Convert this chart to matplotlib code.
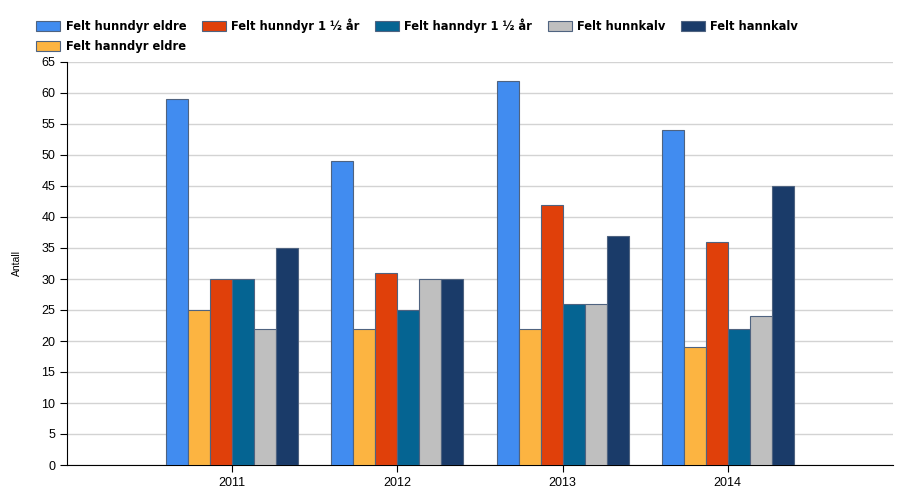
import numpy as np
import matplotlib.pyplot as plt

years = ["2011", "2012", "2013", "2014"]
series = [
    "Felt hunndyr eldre",
    "Felt hanndyr eldre",
    "Felt hunndyr 1 ½ år",
    "Felt hanndyr 1 ½ år",
    "Felt hunnkalv",
    "Felt hannkalv",
]
hunndyr_eldre = [59, 49, 62, 54]
hanndyr_eldre = [25, 22, 22, 19]
hunndyr_halvannet = [30, 31, 42, 36]
hanndyr_halvannet = [30, 25, 26, 22]
hunnkalv = [22, 30, 26, 24]
hannkalv = [35, 30, 37, 45]
values = [hunndyr_eldre, hanndyr_eldre, hunndyr_halvannet,
          hanndyr_halvannet, hunnkalv, hannkalv]
colors = ["#418CF0", "#FCB441", "#E0400A", "#056492", "#BFBFBF", "#1A3B69"]

fig = plt.figure(figsize=(9, 5), dpi=100)
ax = fig.add_axes([67 / 900, 35 / 500, 826 / 900, 403 / 500])

x = np.arange(1, len(years) + 1)
n = len(series)
width = 0.8 / n
for i, (name, vals, col) in enumerate(zip(series, values, colors)):
    offs = (i - (n - 1) / 2) * width
    ax.bar(x + offs, vals, width, color=col, edgecolor="#4f6380",
           linewidth=0.8, label=name, zorder=3)

ax.set_xlim(0, 5)
ax.set_ylim(0, 65)
ax.set_yticks(np.arange(0, 66, 5))
ax.set_xticks(x)
ax.set_xticklabels(years)
ax.yaxis.grid(True, color="#d3d3d3", linewidth=1, zorder=0)
ax.set_axisbelow(True)
for s in ["top", "right"]:
    ax.spines[s].set_visible(False)
ax.tick_params(axis="both", labelsize=9, length=5, color="black")
for lbl in ax.get_xticklabels() + ax.get_yticklabels():
    lbl.set_fontfamily("Liberation Sans")
ax.set_ylabel("Antall", fontsize=7.5, fontfamily="Liberation Sans", labelpad=14)

fig.legend(loc="upper left", bbox_to_anchor=(0.035, 0.972), ncol=5,
           frameon=False, prop={"weight": "bold", "size": 8.3},
           handlelength=2.1, handleheight=0.95, handletextpad=0.45,
           columnspacing=1.35, labelspacing=0.55, borderaxespad=0)

fig.savefig("out.png", dpi=100)
